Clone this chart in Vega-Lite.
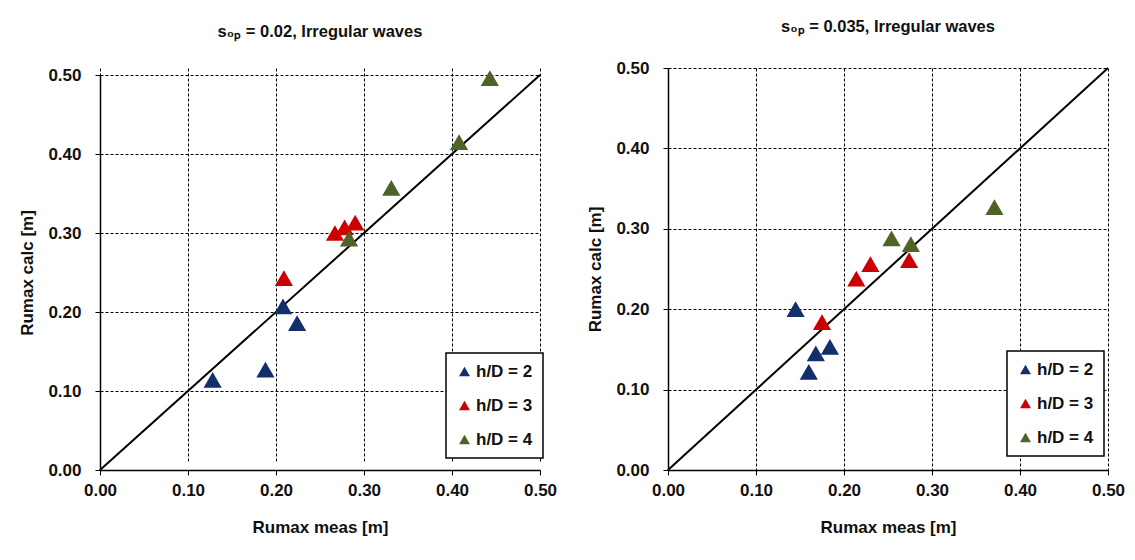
{
  "$schema": "https://vega.github.io/schema/vega-lite/v6.json",
  "background": "white",
  "padding": {"left": 18, "top": 18, "right": 5, "bottom": 5},
  "spacing": 29,
  "datasets": {
    "steep02": [
      {"meas": 0.128, "calc": 0.114, "series": "h/D = 2"},
      {"meas": 0.188, "calc": 0.127, "series": "h/D = 2"},
      {"meas": 0.208, "calc": 0.207, "series": "h/D = 2"},
      {"meas": 0.224, "calc": 0.186, "series": "h/D = 2"},
      {"meas": 0.209, "calc": 0.243, "series": "h/D = 3"},
      {"meas": 0.267, "calc": 0.300, "series": "h/D = 3"},
      {"meas": 0.278, "calc": 0.307, "series": "h/D = 3"},
      {"meas": 0.290, "calc": 0.313, "series": "h/D = 3"},
      {"meas": 0.283, "calc": 0.293, "series": "h/D = 4"},
      {"meas": 0.331, "calc": 0.357, "series": "h/D = 4"},
      {"meas": 0.408, "calc": 0.415, "series": "h/D = 4"},
      {"meas": 0.443, "calc": 0.496, "series": "h/D = 4"}
    ],
    "steep035": [
      {"meas": 0.145, "calc": 0.200, "series": "h/D = 2"},
      {"meas": 0.168, "calc": 0.145, "series": "h/D = 2"},
      {"meas": 0.184, "calc": 0.153, "series": "h/D = 2"},
      {"meas": 0.160, "calc": 0.122, "series": "h/D = 2"},
      {"meas": 0.175, "calc": 0.184, "series": "h/D = 3"},
      {"meas": 0.214, "calc": 0.238, "series": "h/D = 3"},
      {"meas": 0.230, "calc": 0.256, "series": "h/D = 3"},
      {"meas": 0.274, "calc": 0.261, "series": "h/D = 3"},
      {"meas": 0.254, "calc": 0.288, "series": "h/D = 4"},
      {"meas": 0.276, "calc": 0.281, "series": "h/D = 4"},
      {"meas": 0.371, "calc": 0.327, "series": "h/D = 4"}
    ],
    "parity": [{"v": 0}, {"v": 0.5}]
  },
  "hconcat": [
    {
      "width": 440,
      "height": 402,
      "title": {"text": "s₀ₚ = 0.02, Irregular waves", "offset": 26},
      "layer": [
        {
          "data": {"name": "parity"},
          "mark": {"type": "line", "color": "black", "strokeWidth": 2},
          "encoding": {
            "x": {"field": "v", "type": "quantitative", "scale": {"domain": [0, 0.5], "nice": false}, "axis": {"title": "Rumax meas [m]", "values": [0, 0.1, 0.2, 0.3, 0.4, 0.5], "format": ".2f"}},
            "y": {"field": "v", "type": "quantitative", "scale": {"domain": [0, 0.5], "nice": false, "range": [402, 7]}, "axis": {"title": "Rumax calc [m]", "values": [0, 0.1, 0.2, 0.3, 0.4, 0.5], "format": ".2f"}}
          }
        },
        {
          "data": {"name": "steep02"},
          "mark": {"type": "point", "shape": "triangle-up", "filled": true, "size": 330, "opacity": 1, "strokeWidth": 0},
          "encoding": {
            "x": {"field": "meas", "type": "quantitative"},
            "y": {"field": "calc", "type": "quantitative"},
            "color": {
              "field": "series", "type": "nominal",
              "scale": {"domain": ["h/D = 2", "h/D = 3", "h/D = 4"], "range": ["#102f6b", "#cc0000", "#4f6228"]},
              "legend": {"legendX": 346, "legendY": 285}
            }
          }
        }
      ]
    },
    {
      "width": 440,
      "height": 402,
      "title": {"text": "s₀ₚ = 0.035,  Irregular waves", "offset": 24},
      "layer": [
        {
          "data": {"name": "parity"},
          "mark": {"type": "line", "color": "black", "strokeWidth": 2},
          "encoding": {
            "x": {"field": "v", "type": "quantitative", "scale": {"domain": [0, 0.5], "nice": false}, "axis": {"title": "Rumax meas [m]", "values": [0, 0.1, 0.2, 0.3, 0.4, 0.5], "format": ".2f"}},
            "y": {"field": "v", "type": "quantitative", "scale": {"domain": [0, 0.5], "nice": false}, "axis": {"title": "Rumax calc [m]", "values": [0, 0.1, 0.2, 0.3, 0.4, 0.5], "format": ".2f"}}
          }
        },
        {
          "data": {"name": "steep035"},
          "mark": {"type": "point", "shape": "triangle-up", "filled": true, "size": 330, "opacity": 1, "strokeWidth": 0},
          "encoding": {
            "x": {"field": "meas", "type": "quantitative"},
            "y": {"field": "calc", "type": "quantitative"},
            "color": {
              "field": "series", "type": "nominal",
              "scale": {"domain": ["h/D = 2", "h/D = 3", "h/D = 4"], "range": ["#102f6b", "#cc0000", "#4f6228"]},
              "legend": {"legendX": 339, "legendY": 283}
            }
          }
        }
      ]
    }
  ],
  "resolve": {
    "scale": {"x": "independent", "y": "independent", "color": "independent"},
    "legend": {"color": "independent"}
  },
  "config": {
    "font": "Liberation Sans",
    "view": {"stroke": null},
    "title": {"font": "Liberation Sans", "fontSize": 16.5, "fontWeight": "bold", "color": "#111", "anchor": "middle"},
    "axis": {
      "labelFont": "Liberation Sans", "labelFontSize": 17, "labelFontWeight": "bold", "labelColor": "#111",
      "titleFont": "Liberation Sans", "titleFontSize": 17, "titleFontWeight": "bold", "titleColor": "#111",
      "domainColor": "black", "domainWidth": 1.5,
      "tickColor": "black", "tickSize": 5, "tickWidth": 1,
      "grid": true, "gridColor": "black", "gridWidth": 1, "gridDash": [3, 2], "gridOpacity": 1,
      "labelFlush": false, "labelOverlap": false
    },
    "axisX": {"labelPadding": 7, "titlePadding": 21},
    "axisY": {"labelPadding": 14, "titlePadding": 11},
    "legend": {
      "orient": "none", "title": null,
      "symbolType": "triangle-up", "symbolSize": 120, "symbolStrokeWidth": 0, "symbolOpacity": 1,
      "labelFont": "Liberation Sans", "labelFontSize": 17, "labelFontWeight": "bold", "labelColor": "#111",
      "labelOffset": 3, "strokeColor": "black", "strokeWidth": 1.5, "fillColor": "white",
      "padding": 10, "rowPadding": 16
    }
  }
}
